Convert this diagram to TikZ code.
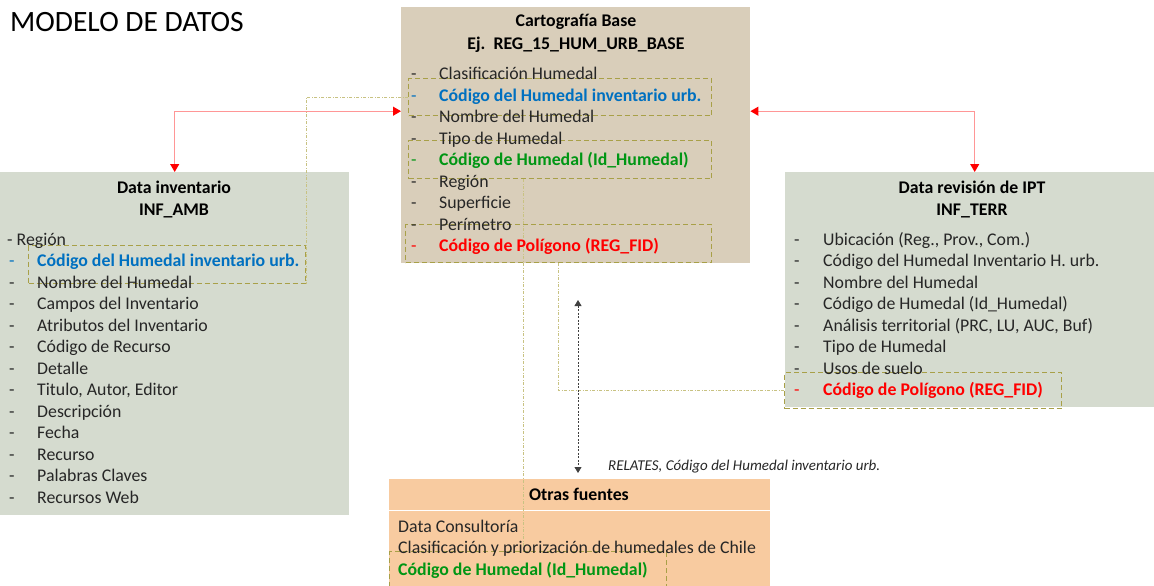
\documentclass[tikz,border=0pt]{standalone}
\usepackage{fontspec}
\setmainfont{Carlito}
\usetikzlibrary{arrows.meta}
\definecolor{tanc}{RGB}{217,206,186}
\definecolor{ggc}{RGB}{213,219,207}
\definecolor{orc}{RGB}{248,203,160}
\definecolor{txtc}{RGB}{38,38,38}
\definecolor{bluec}{RGB}{0,112,192}
\definecolor{greenc}{RGB}{0,150,20}
\definecolor{redc}{RGB}{255,0,0}
\definecolor{olivec}{RGB}{168,160,72}
\definecolor{dotc}{RGB}{200,194,130}
\definecolor{redline}{RGB}{255,150,150}
\definecolor{grayarr}{RGB}{64,64,64}
\tikzset{
  panel/.style={draw=none, inner sep=0pt, anchor=north west},
  dbox/.style={draw=olivec, line width=1.2pt, dash pattern=on 5pt off 3pt, inner sep=0pt, anchor=north west},
  txt/.style={anchor=base west, inner sep=0pt, text=txtc, font=\fontsize{17.8}{20}\selectfont},
  ttl/.style={anchor=base, inner sep=0pt, text=black, font=\fontsize{17.8}{20}\selectfont\bfseries},
  link/.style={draw=dotc, line width=1pt, dash pattern=on 3pt off 1.5pt on 1pt off 1.5pt},
  redarr/.style={draw=redline, line width=1.1pt, {Triangle[length=8pt,width=9pt,color=redc]}-{Triangle[length=8pt,width=9pt,color=redc]}},
  relarr/.style={draw=grayarr, line width=0.8pt, dash pattern=on 2pt off 1.5pt, {Triangle[length=6pt,width=7pt]}-{Triangle[length=6pt,width=7pt]}}
}
\begin{document}
\begin{tikzpicture}[x=1pt,y=-1pt]
\useasboundingbox (0,0) rectangle (1154,586);
% title
\node[anchor=base west, inner sep=0pt, text=black, font=\fontsize{29.5}{32}\selectfont] (title) at (10,32) {MODELO DE DATOS};
% panels
\node[panel, fill=tanc, minimum width=349pt, minimum height=256pt] (Cbox) at (401,7) {};
\node[panel, fill=ggc, minimum width=349pt, minimum height=343pt] (Lbox) at (0,172) {};
\node[panel, fill=ggc, minimum width=369pt, minimum height=235pt] (Rbox) at (785,172) {};
\node[panel, fill=orc, minimum width=381pt, minimum height=107pt] (Obox) at (389,479) {};
\draw[white, line width=1pt] ([yshift=-31pt]Obox.north west) -- ([yshift=-31pt]Obox.north east);
% dashed key boxes
\node[dbox, minimum width=303pt, minimum height=37pt] (A) at (408,78) {};
\node[dbox, minimum width=303pt, minimum height=38pt] (B) at (408,140) {};
\node[dbox, minimum width=306pt, minimum height=38pt] (C) at (405,224) {};
\node[dbox, minimum width=277pt, minimum height=38pt] (Ld) at (28,245) {};
\node[dbox, minimum width=277pt, minimum height=36pt] (Rd) at (784,372) {};
\node[dbox, minimum width=277pt, minimum height=40pt] (Od) at (389,551) {};
% dotted relation links
\draw[link] (A.west) -| (Ld.south east);
\draw[link] ([xshift=-5pt]Od.north |- B.south) -- ([xshift=-5pt]Od.north);
\draw[link] (C.south) |- (Rd.west);
% red arrows
\draw[redarr] ([yshift=24pt]Cbox.west) -| (Lbox.north);
\draw[redarr] ([yshift=24pt]Cbox.east) -| ([xshift=5pt]Rbox.north);
% relates arrow
\coordinate (r1) at (578,300);
\coordinate (r2) at (578,473);
\draw[relarr] (r1) -- (r2);
\node[anchor=base west, inner sep=0pt, text=txtc, font=\fontsize{15}{17}\selectfont\itshape] (rel) at (608,470) {RELATES, Código del Humedal inventario urb.};
% center box text
\node[ttl] (ct1) at (576,27) {Cartografía Base};
\node[ttl] (ct2) at (576,49) {Ej.\ \ REG\_15\_HUM\_URB\_BASE};
\node[txt] (cd1) at (411,79) {-}; \node[txt] (c1) at (439,79) {Clasificación Humedal};
\node[txt, text=bluec] (cd2) at (411,101) {-}; \node[txt, text=bluec, font=\fontsize{17.8}{20}\selectfont\bfseries] (c2) at (439,101) {Código del Humedal inventario urb.};
\node[txt] (cd3) at (411,122) {-}; \node[txt] (c3) at (439,122) {Nombre del Humedal};
\node[txt] (cd4) at (411,144) {-}; \node[txt] (c4) at (439,144) {Tipo de Humedal};
\node[txt, text=greenc] (cd5) at (411,165) {-}; \node[txt, text=greenc, font=\fontsize{17.8}{20}\selectfont\bfseries] (c5) at (439,165) {Código de Humedal (Id\_Humedal)};
\node[txt] (cd6) at (411,187) {-}; \node[txt] (c6) at (439,187) {Región};
\node[txt] (cd7) at (411,208) {-}; \node[txt] (c7) at (439,208) {Superficie};
\node[txt] (cd8) at (411,230) {-}; \node[txt] (c8) at (439,230) {Perímetro};
\node[txt, text=redc] (cd9) at (411,251) {-}; \node[txt, text=redc, font=\fontsize{17.8}{20}\selectfont\bfseries] (c9) at (439,251) {Código de Polígono (REG\_FID)};
% left box text
\node[ttl] (lt1) at (174,193) {Data inventario};
\node[ttl] (lt2) at (174,215) {INF\_AMB};
\node[txt] (l0) at (7,245) {- Región};
\node[txt, text=bluec] (ld1) at (9,266.5) {-}; \node[txt, text=bluec, font=\fontsize{17.8}{20}\selectfont\bfseries] (l1) at (37,266.5) {Código del Humedal inventario urb.};
\node[txt] (ld2) at (9,288) {-}; \node[txt] (l2) at (37,288) {Nombre del Humedal};
\node[txt] (ld3) at (9,309.5) {-}; \node[txt] (l3) at (37,309.5) {Campos del Inventario};
\node[txt] (ld4) at (9,331) {-}; \node[txt] (l4) at (37,331) {Atributos del Inventario};
\node[txt] (ld5) at (9,352.5) {-}; \node[txt] (l5) at (37,352.5) {Código de Recurso};
\node[txt] (ld6) at (9,374) {-}; \node[txt] (l6) at (37,374) {Detalle};
\node[txt] (ld7) at (9,395.5) {-}; \node[txt] (l7) at (37,395.5) {Titulo, Autor, Editor};
\node[txt] (ld8) at (9,417) {-}; \node[txt] (l8) at (37,417) {Descripción};
\node[txt] (ld9) at (9,438.5) {-}; \node[txt] (l9) at (37,438.5) {Fecha};
\node[txt] (ld10) at (9,460) {-}; \node[txt] (l10) at (37,460) {Recurso};
\node[txt] (ld11) at (9,481.5) {-}; \node[txt] (l11) at (37,481.5) {Palabras Claves};
\node[txt] (ld12) at (9,503) {-}; \node[txt] (l12) at (37,503) {Recursos Web};
% right box text
\node[ttl] (rt1) at (972,193) {Data revisión de IPT};
\node[ttl] (rt2) at (972,215) {INF\_TERR};
\node[txt] (rd1) at (794,245) {-}; \node[txt] (r1t) at (823,245) {Ubicación (Reg., Prov., Com.)};
\node[txt] (rd2) at (794,266.5) {-}; \node[txt] (r2t) at (823,266.5) {Código del Humedal Inventario H. urb.};
\node[txt] (rd3) at (794,288) {-}; \node[txt] (r3t) at (823,288) {Nombre del Humedal};
\node[txt] (rd4) at (794,309.5) {-}; \node[txt] (r4t) at (823,309.5) {Código de Humedal (Id\_Humedal)};
\node[txt] (rd5) at (794,331) {-}; \node[txt] (r5t) at (823,331) {Análisis territorial (PRC, LU, AUC, Buf)};
\node[txt] (rd6) at (794,352.5) {-}; \node[txt] (r6t) at (823,352.5) {Tipo de Humedal};
\node[txt] (rd7) at (794,374) {-}; \node[txt] (r7t) at (823,374) {Usos de suelo};
\node[txt, text=redc] (rd8) at (794,395.5) {-}; \node[txt, text=redc, font=\fontsize{17.8}{20}\selectfont\bfseries] (r8t) at (823,395.5) {Código de Polígono (REG\_FID)};
% bottom box text
\node[ttl] (ot1) at (579,500) {Otras fuentes};
\node[txt] (o1) at (398,532) {Data Consultoría};
\node[txt] (o2) at (398,553.5) {Clasificación y priorización de humedales de Chile};
\node[txt, text=greenc, font=\fontsize{17.8}{20}\selectfont\bfseries] (o3) at (398,575) {Código de Humedal (Id\_Humedal)};
\end{tikzpicture}
\end{document}
